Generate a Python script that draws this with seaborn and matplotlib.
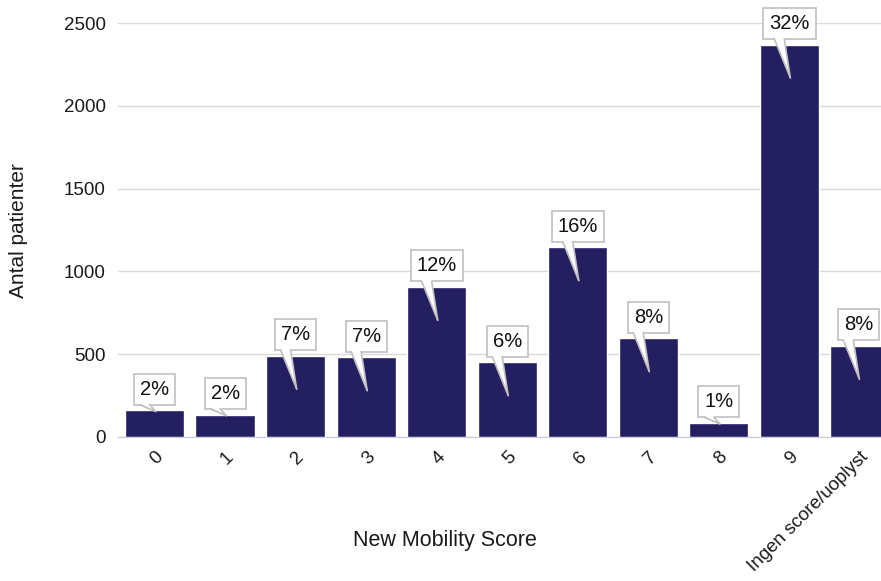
import numpy as np
import pandas as pd
import seaborn as sns
import matplotlib.pyplot as plt
from matplotlib.patches import Polygon
from matplotlib.lines import Line2D

categories = ['0', '1', '2', '3', '4', '5', '6', '7', '8', '9', 'Ingen score/uoplyst']
patients = [160, 135, 490, 480, 905, 450, 1145, 595, 85, 2370, 550]
pct_labels = ['2%', '2%', '7%', '7%', '12%', '6%', '16%', '8%', '1%', '32%', '8%']

df = pd.DataFrame({'score': categories, 'antal': patients})

sns.set_style('white')
plt.rcParams['font.family'] = ['Liberation Sans', 'DejaVu Sans']

fig = plt.figure(figsize=(8.81, 5.81), dpi=100)
ax = fig.add_axes([0.134, 0.248, 0.866, 0.712])

sns.barplot(data=df, x='score', y='antal', color='#241f60', width=0.84,
            saturation=1, ax=ax, zorder=2)

ax.set_ylim(0, 2500)
ax.set_xlim(-0.518, 10.30)
ax.set_yticks([0, 500, 1000, 1500, 2000, 2500])
ax.yaxis.grid(True, color='#d9d9d9', linewidth=1)
ax.set_axisbelow(True)
sns.despine(ax=ax, left=True, top=True, right=True)
ax.spines['bottom'].set_color('#c9c8e0')
ax.tick_params(axis='y', length=3, color='#d9d9d9', labelsize=13.5, labelcolor='#1a1a1a', pad=6)
ax.tick_params(axis='x', length=0, labelsize=13.5, labelcolor='#1a1a1a', pad=8)
plt.setp(ax.get_xticklabels(), rotation=45, ha='right', rotation_mode='anchor')

ax.set_xlabel('New Mobility Score', fontsize=15.5, color='#1a1a1a')
ax.set_ylabel('Antal patienter', fontsize=15, color='#1a1a1a')
ax.xaxis.set_label_coords(0.428, -0.225)
ax.yaxis.set_label_coords(-0.118, 0.5)

# callout boxes
edge = '#c0c0c0'
texts = []
for i, (val, lab) in enumerate(zip(patients, pct_labels)):
    t = ax.annotate(lab, xy=(i, val), xytext=(0, 8.5), textcoords='offset points',
                    ha='center', va='bottom', fontsize=14.5, color='#111111',
                    bbox=dict(boxstyle='square,pad=0.3', fc='white', ec=edge, lw=1.2),
                    annotation_clip=False, zorder=5)
    texts.append(t)

fig.canvas.draw()

# keep boxes inside the figure (last one sits on the right edge)
fig_w = fig.bbox.width
for t in texts:
    box = t.get_bbox_patch().get_window_extent()
    over = box.x1 - (fig_w - 2)
    if over > 0:
        t.xyann = (-over * 72 / fig.dpi, 8.5)
fig.canvas.draw()

# callout tails, in pixels, anchored on the box and on the bar
for i, (val, t) in enumerate(zip(patients, texts)):
    box = t.get_bbox_patch().get_window_extent()
    cx = (box.x0 + box.x1) / 2
    tip_val = val - 200 if val > 400 else val
    tip = ax.transData.transform((i, tip_val))
    ty = tip[1] if val > 400 else tip[1] - 1
    left = (cx - 15, box.y0 + 1.5)
    right = (cx - 5, box.y0 + 1.5)
    point = (max(cx + 1, tip[0] - 2), ty)
    fig.patches.append(Polygon([left, right, point], closed=True, fc='white', ec='none',
                               transform=None, figure=fig, zorder=6))
    for a in (left, right):
        fig.lines.append(Line2D([a[0], point[0]], [a[1] - 1.5, point[1]], color=edge, lw=1.2,
                                transform=None, figure=fig, zorder=7))

fig.savefig('out.png', dpi=100)
